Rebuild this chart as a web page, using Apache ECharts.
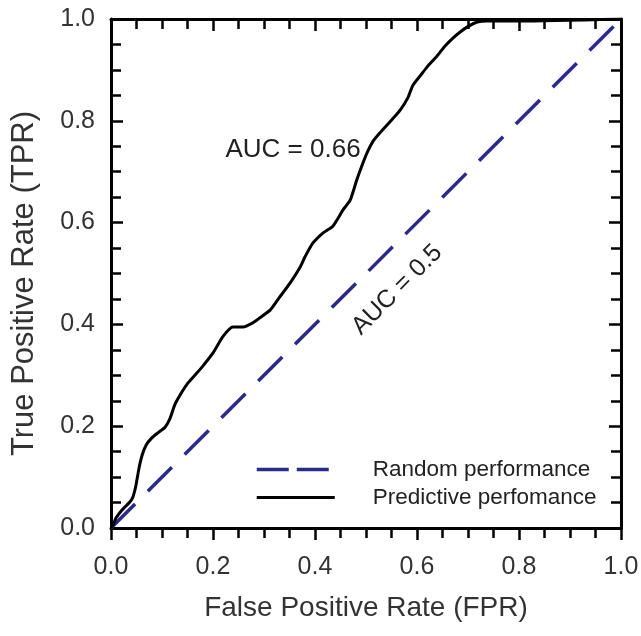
<!DOCTYPE html>
<html>
<head>
<meta charset="utf-8">
<script src="https://cdn.jsdelivr.net/npm/echarts@6/dist/echarts.min.js"></script>
<style>
html,body{margin:0;padding:0;background:#fff;}
#chart{width:641px;height:636px;}
</style>
</head>
<body>
<div id="chart"></div>
<script>
// ---- data ----
const seriesNames = ['Random performance', 'Predictive perfomance'];
const randomFPR = [0, 1];
const randomTPR = [0, 1];
const predFPR = [0, 0.004, 0.010, 0.018, 0.027, 0.037, 0.043, 0.049, 0.055, 0.061, 0.069, 0.080, 0.092, 0.106, 0.116, 0.125, 0.139, 0.151, 0.167, 0.180, 0.200, 0.220, 0.239, 0.259, 0.278, 0.292, 0.312, 0.331, 0.351, 0.371, 0.380, 0.396, 0.416, 0.435, 0.455, 0.469, 0.482, 0.494, 0.502, 0.514, 0.527, 0.547, 0.567, 0.582, 0.592, 0.606, 0.620, 0.639, 0.655, 0.671, 0.684, 0.698, 0.718, 0.737, 0.802, 1.0];
const predTPR = [0, 0.006, 0.020, 0.031, 0.041, 0.051, 0.061, 0.084, 0.118, 0.143, 0.163, 0.177, 0.187, 0.198, 0.216, 0.242, 0.267, 0.285, 0.303, 0.318, 0.344, 0.377, 0.395, 0.395, 0.403, 0.413, 0.428, 0.454, 0.481, 0.513, 0.532, 0.560, 0.580, 0.593, 0.625, 0.644, 0.684, 0.717, 0.737, 0.760, 0.776, 0.798, 0.821, 0.845, 0.870, 0.888, 0.906, 0.927, 0.947, 0.963, 0.974, 0.984, 0.994, 0.996, 0.996, 1.0];
const tickValues = [0, 0.2, 0.4, 0.6, 0.8, 1.0];
const annotations = ['AUC = 0.66', 'AUC = 0.5'];
const xTitle = 'False Positive Rate (FPR)';
const yTitle = 'True Positive Rate (TPR)';

const zip = (a, b) => a.map((v, i) => [v, b[i]]);

const FONT = '"Liberation Sans", Arial, sans-serif';
const TXT = '#333';
const NAVY = '#2b2a8c';
const axisLine = { show: true, onZero: false, lineStyle: { color: '#000', width: 3 } };

function axisBase(showLabel, inside) {
  return {
    type: 'value', min: 0, max: 1, interval: 0.2, splitNumber: 4,
    axisLine: axisLine,
    axisTick: { show: true, inside: inside, length: 12, lineStyle: { color: '#000', width: 2.5 } },
    minorTick: { show: true, splitNumber: 4, length: 10, lineStyle: { color: '#000', width: 2.5 } },
    splitLine: { show: false },
    minorSplitLine: { show: false },
    axisLabel: {
      show: showLabel, color: TXT, fontFamily: FONT, fontSize: 25,
      formatter: v => tickValues.some(t => Math.abs(t - v) < 1e-9) ? v.toFixed(1) : ''
    },
    axisPointer: { show: false }
  };
}

const chart = echarts.init(document.getElementById('chart'), null, { renderer: 'canvas' });
const option = {
  animation: false,
  backgroundColor: '#fff',
  grid: { left: 111, right: 20, top: 19, bottom: 108, containLabel: false, outerBoundsMode: 'none' },
  xAxis: [
    Object.assign(axisBase(true, false), {
      position: 'bottom',
      name: xTitle, nameLocation: 'middle', nameGap: 66,
      nameTextStyle: { color: TXT, fontFamily: FONT, fontSize: 28 },
      axisLabel: Object.assign(axisBase(true, false).axisLabel, { margin: 27 })
    }),
    Object.assign(axisBase(false, true), { position: 'top' })
  ],
  yAxis: [
    Object.assign(axisBase(true, true), {
      position: 'left',
      name: yTitle, nameLocation: 'middle', nameGap: 71, nameRotate: 90,
      nameTextStyle: { color: TXT, fontFamily: FONT, fontSize: 31, padding: [0, 20, 0, 0] },
      axisLabel: Object.assign(axisBase(true, true).axisLabel, { margin: 16 })
    }),
    Object.assign(axisBase(false, true), { position: 'right' })
  ],
  legend: {
    orient: 'vertical', left: 250, top: 453,
    itemWidth: 78, itemHeight: 14, itemGap: 5,
    data: [
      { name: seriesNames[0], lineStyle: { type: [32, 8], width: 3.5, color: NAVY } },
      { name: seriesNames[1], lineStyle: { type: 'solid', width: 3.2, color: '#000' } }
    ],
    itemStyle: { opacity: 0 },
    textStyle: { color: '#222', fontFamily: FONT, fontSize: 22.5, padding: [0, 0, 0, 33] },
    selectedMode: false
  },
  series: [
    {
      name: seriesNames[0], type: 'line', xAxisIndex: 0, yAxisIndex: 0,
      data: zip(randomFPR, randomTPR), symbol: 'none', showSymbol: false,
      lineStyle: { color: NAVY, width: 3.5, type: [34, 18] },
      itemStyle: { color: NAVY },
      silent: true,
      markPoint: {
        symbol: 'circle', symbolSize: 0, silent: true,
        label: { show: true, position: 'inside', formatter: annotations[1], rotate: 45,
          color: '#222', fontFamily: FONT, fontSize: 25 },
        data: [{ coord: [0.561, 0.468] }]
      }
    },
    {
      name: seriesNames[1], type: 'line', xAxisIndex: 0, yAxisIndex: 0,
      data: zip(predFPR, predTPR), symbol: 'none', showSymbol: false, smooth: 0.2,
      lineStyle: { color: '#000', width: 3 },
      itemStyle: { color: '#000' },
      silent: true,
      markPoint: {
        symbol: 'circle', symbolSize: 0, silent: true,
        label: { show: true, position: 'inside', formatter: annotations[0],
          color: '#222', fontFamily: FONT, fontSize: 26 },
        data: [{ coord: [0.357, 0.743] }]
      }
    }
  ]
};
chart.setOption(option);
</script>
</body>
</html>
